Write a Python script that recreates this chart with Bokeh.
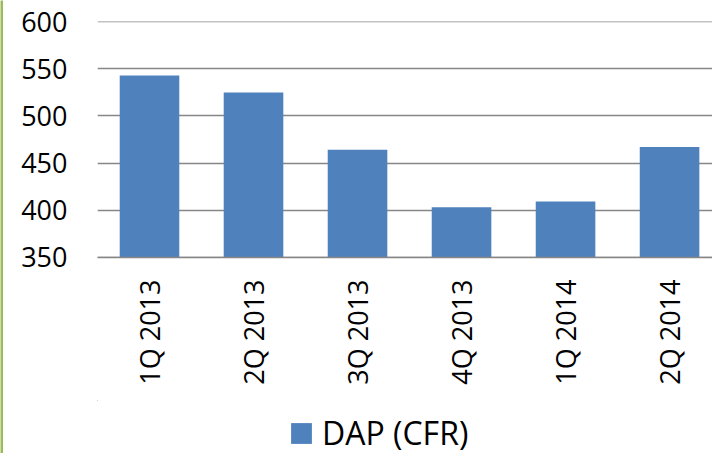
from bokeh.plotting import figure
from bokeh.models import Range1d, FixedTicker, Legend, LegendItem, ColumnDataSource
from bokeh.layouts import row, column
from bokeh.embed import file_html
from bokeh.resources import INLINE

quarters = ["1Q 2013", "2Q 2013", "3Q 2013", "4Q 2013", "1Q 2014", "2Q 2014"]
dap_cfr = [543, 525, 464, 403, 409, 467]
y_ticks = [350, 400, 450, 500, 550, 600]
series_name = "DAP (CFR)"

BAR_COLOR = "#4f81bd"
FONT = "Open Sans"

xpos = [i + 0.5 for i in range(len(quarters))]
src = ColumnDataSource(dict(x=xpos, top=dap_cfr, q=quarters))

# thin green rule at the left edge
edge = figure(width=3, height=453, output_backend="svg", toolbar_location=None,
              x_axis_location=None, y_axis_location=None,
              min_border=0, background_fill_color="#9bbb59",
              border_fill_color="#9bbb59", outline_line_color=None)
edge.xgrid.visible = False
edge.ygrid.visible = False

p = figure(width=709, height=400, output_backend="svg", toolbar_location=None,
           x_range=Range1d(0, 5.913), y_range=Range1d(349.5, 600.5),
           min_border_left=94, min_border_right=0, min_border_top=21, min_border_bottom=143)
p.outline_line_color = None
p.background_fill_color = "white"
p.border_fill_color = "white"

r = p.vbar(x="x", top="top", bottom=350, width=0.573, source=src,
           fill_color=BAR_COLOR, line_color=None)

# y axis
p.yaxis.ticker = FixedTicker(ticks=y_ticks)
p.yaxis.axis_line_color = None
p.yaxis.major_tick_line_color = None
p.yaxis.minor_tick_line_color = None
p.yaxis.major_tick_out = 0
p.yaxis.major_tick_in = 0
p.yaxis.major_label_standoff = 30
p.yaxis.major_label_text_font = FONT
p.yaxis.major_label_text_font_size = "27px"
p.yaxis.major_label_text_color = "black"

# x axis
p.xaxis.ticker = FixedTicker(ticks=xpos)
p.xaxis.major_label_overrides = {x: q for x, q in zip(xpos, quarters)}
p.xaxis.major_label_orientation = 3.14159265 / 2
p.xaxis.axis_line_color = "#868686"
p.xaxis.axis_line_width = 1.5
p.xaxis.major_tick_line_color = None
p.xaxis.minor_tick_line_color = None
p.xaxis.major_tick_out = 0
p.xaxis.major_tick_in = 0
p.xaxis.major_label_standoff = 22
p.xaxis.major_label_text_font = FONT
p.xaxis.major_label_text_font_size = "27px"
p.xaxis.major_label_text_color = "black"

p.xgrid.grid_line_color = None
p.ygrid.ticker = FixedTicker(ticks=y_ticks)
p.ygrid.grid_line_color = "#868686"
p.ygrid.grid_line_width = 1.5

# legend strip below the chart (same series; its bars lie far outside this strip's ranges)
lf = figure(width=709, height=53, output_backend="svg", toolbar_location=None,
            x_axis_location=None, y_axis_location=None, min_border=0,
            x_range=Range1d(100, 101), y_range=Range1d(0, 1), outline_line_color=None)
lf.xgrid.visible = False
lf.ygrid.visible = False
lr = lf.vbar(x="x", top="top", bottom=350, width=0.573, source=src,
             fill_color=BAR_COLOR, line_color=None)

legend = Legend(items=[LegendItem(label=series_name, renderers=[lr])],
                orientation="horizontal", location=(191, -1),
                label_text_font=FONT, label_text_font_size="32px",
                label_text_color="black",
                glyph_width=26, glyph_height=26, label_standoff=8,
                padding=0, margin=0, border_line_color=None,
                background_fill_alpha=0)
lf.add_layout(legend, "center")

layout = row(edge, column(p, lf, spacing=0), spacing=0)

open("out.html", "w").write(file_html(layout, INLINE))
